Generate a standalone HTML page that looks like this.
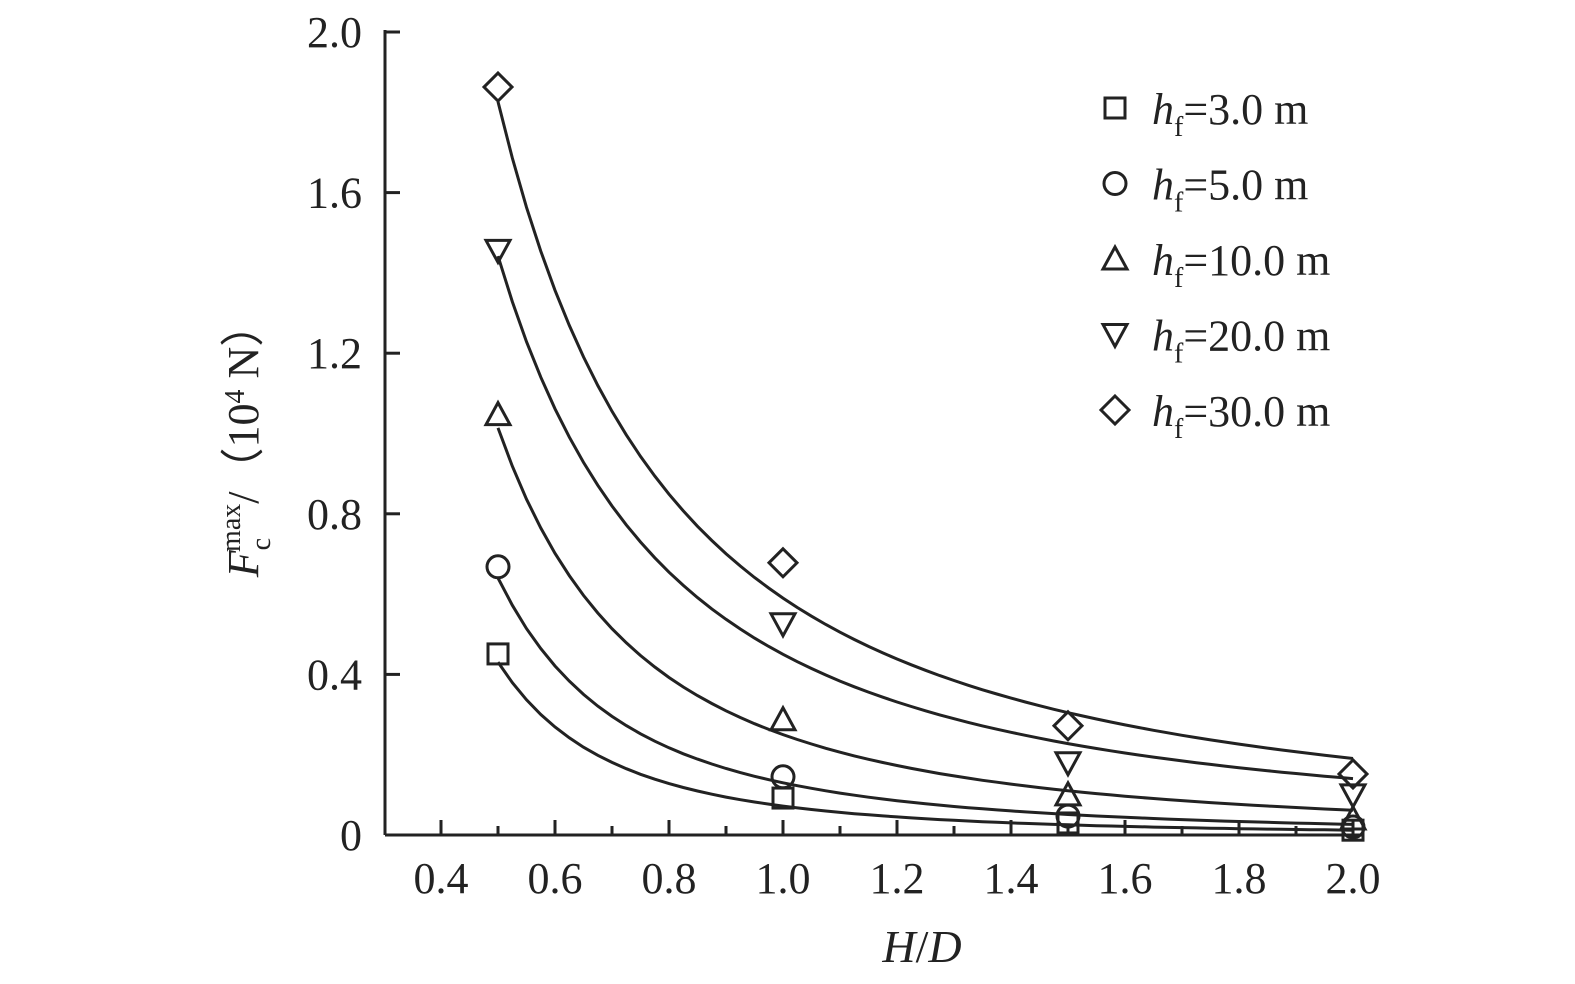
<!DOCTYPE html>
<html><head><meta charset="utf-8"><style>
body{margin:0;background:#fff;}
svg{display:block;font-family:"Liberation Serif",serif;}
</style></head><body>
<svg id="chart" width="1575" height="984" viewBox="0 0 1575 984"></svg>
<script>
const xValues=[0.5,1.0,1.5,2.0];
const seriesNames=["3.0","5.0","10.0","20.0","30.0"];
const seriesMarkers=["square","circle","up","down","diamond"];
const s3=[0.451,0.092,0.03,0.012];
const s5=[0.668,0.145,0.047,0.02];
const s10=[1.047,0.287,0.10,0.04];
const s20=[1.456,0.526,0.18,0.10];
const s30=[1.863,0.678,0.272,0.152];
const fitA=[0.072,0.13,0.25,0.45,0.59];
const fitB=[-2.58,-2.3,-2.02,-1.68,-1.63];
const xTicks=[0.4,0.6,0.8,1.0,1.2,1.4,1.6,1.8,2.0];
const yTicks=[0,0.4,0.8,1.2,1.6,2.0];
const allSeries=[s3,s5,s10,s20,s30];

const NS="http://www.w3.org/2000/svg";
const svg=document.getElementById('chart');
const X=v=>441+(v-0.4)*570;
const Y=v=>835-v*401.5;
function mk(t,a,p){const e=document.createElementNS(NS,t);for(const k in a)e.setAttribute(k,a[k]);(p||svg).appendChild(e);return e;}

// axes
let ax=mk('line',{x1:385,y1:835,x2:1363,y2:835,stroke:'#222','stroke-width':3});


let ay=mk('line',{x1:385,y1:835,x2:385,y2:30,stroke:'#222','stroke-width':3});


for(let v=0.4;v<=2.05;v+=0.1){
  const major=Math.abs(v*5-Math.round(v*5))<1e-6;
  const t=mk('line',{x1:X(v),x2:X(v),y1:835,y2:major?820:826,stroke:'#222','stroke-width':3});
  
  
}
xTicks.forEach(v=>{
  const t=mk('text',{x:X(v),y:893,'font-size':44,'text-anchor':'middle',fill:'#222'});
  t.textContent=v.toFixed(1);
  
  
});
yTicks.forEach(v=>{
  const l=mk('line',{x1:385,x2:400,y1:Y(v),y2:Y(v),stroke:'#222','stroke-width':3});
  
  
  const t=mk('text',{x:362,y:Y(v)+15,'font-size':44,'text-anchor':'end',fill:'#222'});
  t.textContent=v===0?'0':v.toFixed(1);
  
  
});
// titles
const xt=mk('text',{x:922,y:962,'font-size':46,'text-anchor':'middle',fill:'#222'});
xt.innerHTML='<tspan font-style="italic">H</tspan>/<tspan font-style="italic">D</tspan>';


const yt=mk('text',{transform:'translate(258,440) rotate(-90)','font-size':44,'text-anchor':'middle',fill:'#222'});
yt.innerHTML='<tspan font-style="italic">F</tspan><tspan font-size="28" dy="12">c</tspan><tspan font-size="28" dx="-14" dy="-30">max</tspan><tspan dy="18">/（10</tspan><tspan font-size="28" dy="-14">4</tspan><tspan dy="14"> N）</tspan>';



function marker(type,cx,cy,name){
  let e,r=10;
  if(type==='square')e=mk('rect',{x:cx-r,y:cy-r,width:2*r,height:2*r});
  else if(type==='circle')e=mk('circle',{cx:cx,cy:cy,r:r+1});
  else if(type==='up')e=mk('polygon',{points:`${cx},${cy-12} ${cx+12},${cy+10} ${cx-12},${cy+10}`});
  else if(type==='down')e=mk('polygon',{points:`${cx-12},${cy-10} ${cx+12},${cy-10} ${cx},${cy+12}`});
  else e=mk('polygon',{points:`${cx},${cy-14} ${cx+14},${cy} ${cx},${cy+14} ${cx-14},${cy}`});
  e.setAttribute('fill','none');e.setAttribute('stroke','#222');e.setAttribute('stroke-width',3);
  
  
}
allSeries.forEach((s,i)=>{
  let d='';
  for(let k=0;k<=60;k++){const xv=0.5+1.5*k/60;const yv=fitA[i]*Math.pow(xv,fitB[i]);d+=(k?'L':'M')+X(xv).toFixed(1)+','+Y(yv).toFixed(1);}
  const p=mk('path',{d:d,fill:'none',stroke:'#222','stroke-width':3});
  
  
  s.forEach((v,j)=>marker(seriesMarkers[i],X(xValues[j]),Y(v),'point-'+seriesNames[i]));
});
// legend
seriesNames.forEach((n,i)=>{
  const cy=108+i*75.5;
  marker(seriesMarkers[i],1115,cy,'legend-marker');
  const t=mk('text',{x:1152,y:cy+16,'font-size':44,fill:'#222'});
  t.innerHTML='<tspan font-style="italic">h</tspan><tspan font-size="28" dy="12">f</tspan><tspan dy="-12">='+n+' m</tspan>';
  
  
});
</script>
</body></html>
